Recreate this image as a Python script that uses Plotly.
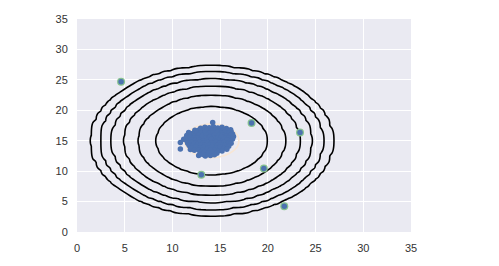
import numpy as np
import plotly.graph_objects as go

# cluster points
cluster_x = [10.83, 10.83, 11.18, 11.88, 12.75, 13.45, 13.98, 16.26, 16.15, 14.22,
             12.95, 13.4, 13.85, 14.3, 14.75, 15.2, 15.65,
             12.35, 12.8, 13.2, 13.6, 14.05, 14.5, 14.9, 15.35, 15.8, 16.1,
             11.7, 12.1, 12.55, 12.95, 13.4, 13.8, 14.25, 14.7, 15.1, 15.5, 15.95, 16.3,
             11.5, 11.9, 12.35, 12.75, 13.15, 13.55, 14.0, 14.4, 14.85, 15.25, 15.7, 16.1, 16.4,
             11.45, 11.85, 12.25, 12.7, 13.1, 13.5, 13.9, 14.35, 14.75, 15.15, 15.55, 15.95, 16.3,
             11.5, 11.95, 12.4, 12.8, 13.2, 13.65, 14.05, 14.45, 14.9, 15.3, 15.7, 16.1,
             11.6, 12.0, 12.45, 12.85, 13.25, 13.7, 14.1, 14.55, 14.95, 15.4, 15.8, 16.15,
             11.75, 12.2, 12.6, 13.0, 13.4, 13.85, 14.25, 14.7, 15.1, 15.5, 15.9,
             12.0, 12.45, 12.9, 13.3, 13.75, 14.15, 14.6, 15.0, 15.4, 15.7,
             12.3, 12.75, 13.15, 13.6, 14.0, 14.45, 14.85, 15.2,
             12.9, 13.35, 13.8, 14.25, 14.65,
             13.2, 14.4]
cluster_y = [14.72, 13.65, 15.25, 13.54, 12.57, 12.47, 12.57, 15.41, 16.49, 17.98,
             17.05, 17.2, 17.15, 17.3, 17.1, 17.2, 17.0,
             16.7, 16.75, 16.6, 16.8, 16.65, 16.75, 16.6, 16.7, 16.65, 16.8,
             16.35, 16.2, 16.4, 16.25, 16.35, 16.2, 16.3, 16.4, 16.2, 16.35, 16.25, 16.1,
             15.85, 15.95, 15.8, 15.95, 15.85, 15.95, 15.8, 15.9, 15.85, 15.95, 15.8, 15.9, 15.7,
             15.45, 15.55, 15.4, 15.5, 15.6, 15.45, 15.55, 15.4, 15.5, 15.6, 15.45, 15.5, 15.3,
             15.0, 15.1, 15.05, 15.15, 15.0, 15.1, 15.2, 15.0, 15.1, 15.05, 15.15, 14.95,
             14.6, 14.7, 14.65, 14.75, 14.6, 14.7, 14.65, 14.75, 14.6, 14.7, 14.55, 14.6,
             14.2, 14.3, 14.25, 14.35, 14.2, 14.3, 14.35, 14.2, 14.3, 14.25, 14.1,
             13.85, 13.95, 13.8, 13.9, 13.85, 13.95, 13.8, 13.9, 13.75, 13.6,
             13.45, 13.5, 13.4, 13.55, 13.45, 13.5, 13.35, 13.3,
             13.05, 13.1, 13.0, 13.1, 12.95,
             12.75, 12.7]

# outliers
outlier_x = [4.62, 13.03, 18.29, 19.58, 21.72, 23.37]
outlier_y = [24.67, 9.42, 17.93, 10.43, 4.23, 16.37]

# fitted gaussian parameters
mu = [14.112, 14.998]
sigma2 = [1.8326, 1.7097]
levels = [1e-20, 1e-17, 1e-14, 1e-11, 1e-8, 1e-5, 1e-2]
level_colors = ["#000000"] * 6 + ["#f8e6d4"]

tick_vals = [0, 5, 10, 15, 20, 25, 30, 35]

grid = np.arange(0, 35.5, 0.5)
GX, GY = np.meshgrid(grid, grid)
P = np.exp(-0.5 * ((GX - mu[0]) ** 2 / sigma2[0] + (GY - mu[1]) ** 2 / sigma2[1])) / (
    2 * np.pi * np.sqrt(sigma2[0] * sigma2[1]))

fig = go.Figure()
for lv, col in zip(levels, level_colors):
    fig.add_trace(go.Contour(
        x=grid, y=grid, z=P, autocontour=False,
        contours=dict(start=lv, end=lv, size=1, coloring="none"),
        line=dict(color=col, width=1.6), showscale=False, hoverinfo="skip"))

fig.add_trace(go.Scatter(x=outlier_x, y=outlier_y, mode="markers",
                         marker=dict(size=8, color="#86c28f"), hoverinfo="skip"))
fig.add_trace(go.Scatter(x=cluster_x + outlier_x, y=cluster_y + outlier_y, mode="markers",
                         marker=dict(size=5.5, color="#4c72b0"), hoverinfo="skip"))

axis_common = dict(range=[0, 35], tickvals=tick_vals, showgrid=True, gridcolor="white",
                   gridwidth=1, zeroline=False, showline=False, ticks="outside",
                   ticklen=6, tickcolor="rgba(0,0,0,0)",
                   tickfont=dict(family="Liberation Sans, Arial", size=11, color="#333333"))
fig.update_layout(
    width=499, height=266, showlegend=False,
    margin=dict(l=77, r=88, t=19, b=31),
    plot_bgcolor="#eaeaf2", paper_bgcolor="white",
    xaxis=axis_common, yaxis=axis_common,
)
fig.write_html("out.html")
